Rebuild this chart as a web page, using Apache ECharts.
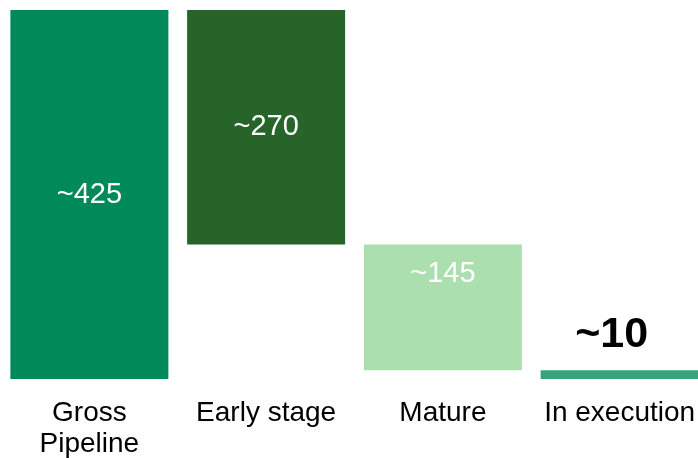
<!DOCTYPE html>
<html>
<head>
<meta charset="utf-8">
<style>
  html, body { margin: 0; padding: 0; background: #fff; }
  #chart { width: 698px; height: 458px; }
</style>
<script src="https://cdn.jsdelivr.net/npm/echarts@6/dist/echarts.min.js"></script>
</head>
<body>
<div id="chart"></div>
<script>
// Pipeline breakdown (waterfall)
const categories = ['Gross\nPipeline', 'Early stage', 'Mature', 'In execution'];
const values = [425, 270, 145, 10];
const valueLabels = ['~425', '~270', '~145', '~10'];
const colors = ['#008A5A', '#27642A', '#ACDFAF', '#34A57A'];

// Invisible offsets: the total starts at zero, "Early stage" hangs from the
// top of the total, "Mature" sits on "In execution", which sits on the axis.
const offsets = [0, values[0] - values[1], values[3], 0];

const font = 'Liberation Sans, Arial, sans-serif';

const labelStyles = [
  { show: true, position: 'inside', color: '#fff', fontSize: 29 },
  { show: true, position: 'inside', color: '#fff', fontSize: 29 },
  { show: true, position: 'insideTop', distance: 15, color: '#fff', fontSize: 29 },
  { show: true, position: 'top', distance: 14, offset: [-8, 0], color: '#000', fontSize: 43, fontWeight: 'bold' }
];

const chart = echarts.init(document.getElementById('chart'));
chart.setOption({
  animation: false,
  backgroundColor: '#fff',
  textStyle: { fontFamily: font },
  grid: { left: 1, top: 10, bottom: 79, width: 707, containLabel: false, outerBoundsMode: 'none' },
  xAxis: {
    type: 'category',
    data: categories,
    axisLine: { show: false },
    axisTick: { show: false },
    axisLabel: { color: '#000', fontSize: 28, lineHeight: 31, margin: 19, interval: 0, fontFamily: font }
  },
  yAxis: { type: 'value', min: 0, max: 425, show: false, splitLine: { show: false } },
  series: [
    {
      type: 'bar',
      stack: 'w',
      barWidth: 158,
      silent: true,
      itemStyle: { color: 'transparent' },
      data: offsets
    },
    {
      type: 'bar',
      stack: 'w',
      barWidth: 158,
      data: values.map((v, i) => ({
        value: v,
        itemStyle: { color: colors[i] },
        label: Object.assign({ formatter: valueLabels[i], fontFamily: font }, labelStyles[i])
      }))
    }
  ]
});
</script>
</body>
</html>
